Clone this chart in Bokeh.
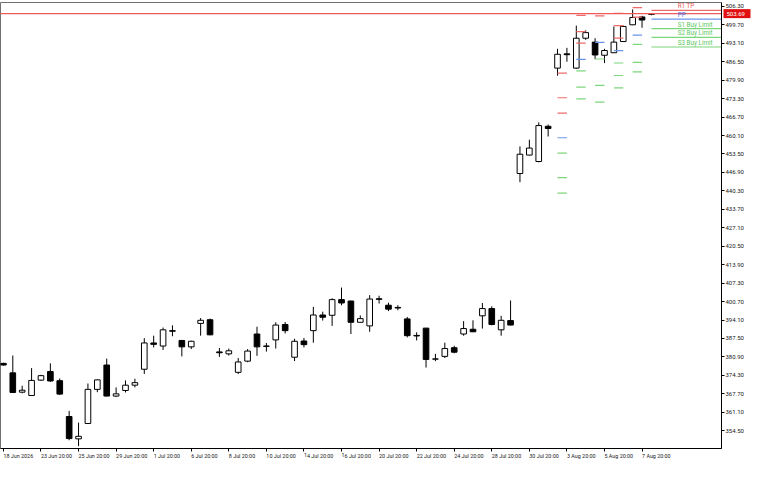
import numpy as np
from bokeh.plotting import figure
from bokeh.models import ColumnDataSource, Range1d, FixedTicker, PrintfTickFormatter, LabelSet
from bokeh.core.properties import value
from bokeh.embed import file_html
from bokeh.resources import INLINE

# ---------------- data ----------------
opens = [378.6, 375.2, 368.3, 367.1, 372.6, 375.7, 372.4, 359.6, 351.6, 357.1,
         369.3, 378.0, 366.9, 368.9, 370.8, 376.5, 385.9, 384.8, 390.3, 386.8,
         384.5, 392.9, 394.2, 382.7, 382.0, 375.4, 379.4, 389.1, 384.8, 387.0,
         392.5, 380.8, 386.6, 390.3, 395.9, 395.8, 401.4, 400.9, 393.3, 392.0,
         401.7, 399.4, 398.6, 394.5, 388.6, 391.2, 380.1, 381.1, 384.2, 389.1,
         390.8, 395.6, 398.2, 390.6, 393.9, 446.5, 453.1, 450.8, 463.4, 484.2,
         489.3, 484.2, 494.9, 493.5, 488.8, 489.7, 493.7, 499.7, 502.5, 503.4]
highs = [378.8, 381.4, 370.6, 376.9, 374.5, 378.6, 373.2, 361.6, 357.4, 371.4,
         372.9, 380.3, 370.0, 372.5, 373.1, 387.6, 388.5, 391.4, 392.2, 386.9,
         386.7, 394.8, 394.6, 384.1, 383.9, 380.5, 383.7, 391.7, 385.9, 393.3,
         393.4, 387.4, 387.7, 398.8, 397.1, 401.9, 405.7, 401.0, 395.75, 403.0,
         402.8, 400.3, 399.4, 395.2, 389.7, 391.3, 382.0, 386.0, 384.9, 393.7,
         394.0, 400.2, 399.0, 395.6, 401.1, 456.2, 458.6, 464.8, 464.0, 491.1,
         491.45, 499.4, 497.7, 494.9, 491.1, 499.1, 499.4, 505.2, 502.9, 503.9]
lows = [377.8, 368.0, 367.9, 367.1, 372.3, 372.0, 367.3, 351.1, 349.0, 357.0,
        368.3, 366.8, 366.6, 368.2, 370.0, 374.8, 384.3, 383.4, 388.3, 381.1,
        383.7, 388.5, 388.7, 380.9, 381.4, 374.8, 379.0, 381.3, 382.8, 383.9,
        389.3, 379.4, 384.3, 386.0, 393.9, 392.0, 399.4, 389.1, 393.2, 389.9,
        400.0, 397.3, 397.6, 387.9, 386.8, 377.1, 379.4, 380.5, 382.2, 388.5,
        389.8, 391.05, 392.2, 388.5, 392.2, 443.4, 453.0, 450.5, 459.75, 481.5,
        486.5, 484.0, 494.3, 487.4, 486.0, 489.6, 493.6, 499.6, 498.65, 503.1]
closes = [378.0, 368.2, 369.0, 372.5, 374.2, 372.3, 367.6, 351.7, 352.5, 369.3,
          372.7, 366.9, 367.7, 370.8, 371.7, 385.9, 385.4, 390.6, 390.1, 384.5,
          386.5, 394.0, 388.8, 382.4, 383.1, 379.1, 383.0, 384.5, 384.7, 392.3,
          390.3, 386.5, 385.3, 395.9, 395.1, 401.4, 400.2, 393.3, 394.6, 401.6,
          401.5, 398.0, 398.4, 388.5, 388.4, 380.0, 380.2, 383.9, 382.6, 391.05,
          389.9, 398.2, 392.5, 394.0, 392.3, 453.4, 455.6, 463.65, 462.6, 489.15,
          489.0, 494.9, 496.9, 488.9, 490.5, 493.5, 499.1, 502.3, 501.4, 503.69]
bid_price = 503.69

x_tick_labels = ["18 Jun 2026", "23 Jun 20:00", "25 Jun 20:00", "29 Jun 20:00",
                 "1 Jul 20:00", "6 Jul 20:00", "8 Jul 20:00", "10 Jul 20:00",
                 "14 Jul 20:00", "16 Jul 20:00", "20 Jul 20:00", "22 Jul 20:00",
                 "24 Jul 20:00", "28 Jul 20:00", "30 Jul 20:00", "3 Aug 20:00",
                 "5 Aug 20:00", "7 Aug 20:00"]
y_ticks = [354.50, 361.10, 367.70, 374.30, 380.90, 387.50, 394.10, 400.70,
           407.30, 413.90, 420.50, 427.10, 433.70, 440.30, 446.90, 453.50,
           460.10, 466.70, 473.30, 479.90, 486.50, 493.10, 499.70, 506.30]
level_labels = ["R1 TP", "PP", "S1 Buy Limit", "S2 Buy Limit", "S3 Buy Limit"]

# ---------------- styling ----------------
FONT = "Roboto"
FS_X = "5.4px"
FS_Y = "6px"
FS_L = "6.3px"
R_COL, PP_COL, S_COL = "#f06a6a", "#6a94ea", "#7cd67c"
R_TXT, PP_TXT, S_TXT = "#e85a5a", "#4a6ee0", "#5ec85e"

W, H = 752, 464
RB = 31
X0, X1 = -0.31, 76.46
Y0, Y1 = 348.15, 507.67

p = figure(width=W, height=H, output_backend="svg", toolbar_location=None,
           x_range=Range1d(X0, X1), y_range=Range1d(Y0, Y1),
           y_axis_location="right",
           min_border_left=0, min_border_right=RB, min_border_top=2, min_border_bottom=14)
p.background_fill_color = "white"
p.border_fill_color = "white"
p.outline_line_color = "#707070"
p.xgrid.visible = False
p.ygrid.visible = False

yax = p.yaxis[0]
yax.ticker = FixedTicker(ticks=y_ticks)
yax.formatter = PrintfTickFormatter(format="%.2f")
yax.major_tick_in = 0
yax.major_tick_out = 3
yax.minor_tick_out = 0
yax.minor_tick_in = 0
yax.axis_line_color = "black"
yax.major_tick_line_color = "black"
yax.major_label_standoff = 1
yax.major_label_text_font = FONT
yax.major_label_text_font_size = FS_Y
yax.major_label_text_color = "#202020"

n = len(opens)
x_tick_bars = list(range(0, n, 4))[:len(x_tick_labels)]
xax = p.xaxis[0]
xax.ticker = FixedTicker(ticks=x_tick_bars)
xax.major_label_overrides = {t: s for t, s in zip(x_tick_bars, x_tick_labels)}
xax.major_tick_in = 0
xax.major_tick_out = 3
xax.minor_tick_out = 0
xax.minor_tick_in = 0
xax.axis_line_color = "black"
xax.major_tick_line_color = "black"
xax.major_label_orientation = -0.0001   # labels start at their tick (left aligned)
xax.major_label_standoff = 4
xax.major_label_text_font = FONT
xax.major_label_text_font_size = FS_X
xax.major_label_text_color = "#202020"

# ---------------- candles ----------------
idx = np.arange(n)
o = np.array(opens); h = np.array(highs); l = np.array(lows); c = np.array(closes)
up = c >= o
dn = ~up
p.segment(x0=idx, y0=h, x1=idx, y1=l, line_color="black", line_width=1)
p.vbar(x=idx[up], width=0.6, top=c[up], bottom=o[up], fill_color="white",
       line_color="black", line_width=1)
p.vbar(x=idx[dn], width=0.6, top=o[dn], bottom=c[dn], fill_color="black",
       line_color="black", line_width=1)

# ---------------- daily pivot levels (2 bars per day) ----------------
day_starts = list(range(1, n, 2))
shown = day_starts[-6:]
segs = {"R": ([], [], [], []), "P": ([], [], [], []), "S": ([], [], [], [])}
cur_levels = None
for k, d in enumerate(shown):
    ph = max(highs[d - 2:d]); pl = min(lows[d - 2:d]); pc = closes[d - 1]
    pp = (ph + pl + pc) / 3.0
    r1 = 2 * pp - pl; s1 = 2 * pp - ph
    r2 = pp + (ph - pl); s2 = pp - (ph - pl)
    r3 = ph + 2 * (pp - pl); s3 = pl - 2 * (ph - pp)
    last = (k == len(shown) - 1)
    xe = X1 + 1 if last else d + 1
    if last:
        groups = [("R", r1), ("P", pp), ("S", s1), ("S", s2), ("S", s3)]
        cur_levels = [r1, pp, s1, s2, s3]
    else:
        groups = [("R", r3), ("R", r2), ("R", r1), ("P", pp), ("S", s1), ("S", s2), ("S", s3)]
    for g, v in groups:
        segs[g][0].append(d); segs[g][1].append(v); segs[g][2].append(xe); segs[g][3].append(v)

for g, col in (("R", R_COL), ("P", PP_COL), ("S", S_COL)):
    x0s, y0s, x1s, y1s = segs[g]
    p.segment(x0=x0s, y0=y0s, x1=x1s, y1=y1s, line_color=col, line_width=1.2)

# bid line
p.line(x=[X0 - 1, X1 + 1], y=[bid_price, bid_price], line_color="#ee5a5a", line_width=1.1)

# level labels
lab_src = ColumnDataSource(dict(x=[71.8] * len(level_labels), y=cur_levels, text=level_labels,
                                color=[R_TXT, PP_TXT, S_TXT, S_TXT, S_TXT]))
p.add_layout(LabelSet(x="x", y="y", text="text", source=lab_src, y_offset=2,
                      text_align="left", text_baseline="alphabetic",
                      text_font=value(FONT), text_font_size=value(FS_L),
                      text_color="color"))

# bid price tag on the price axis (drawn at overlay level so it may sit on the axis)
px_per_bar = (W - RB) / (X1 - X0)
tag_w = 27
p.rect(x=[X1 + (2 + tag_w / 2) / px_per_bar], y=[bid_price], width=tag_w, height=9,
       width_units="screen", height_units="screen", fill_color="#e01010",
       line_color=None, level="overlay")
p.text(x=[X1], y=[bid_price], text=[f"{bid_price:.2f}"], x_offset=5,
       text_align="left", text_baseline="middle", text_color="white",
       text_font=value(FONT), text_font_size=value(FS_Y), level="overlay")

open("out.html", "w").write(file_html(p, INLINE))
